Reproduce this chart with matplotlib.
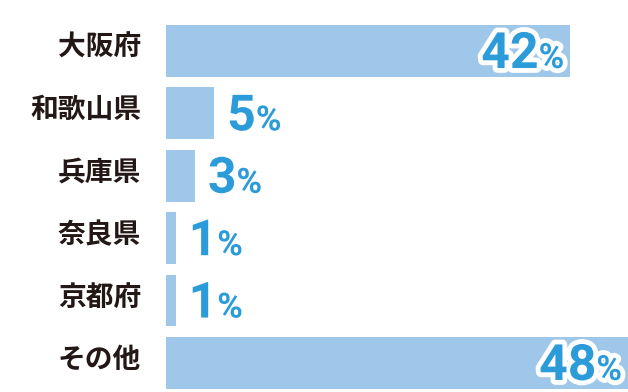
import matplotlib
matplotlib.use("Agg")
import matplotlib.pyplot as plt
import matplotlib.patheffects as pe

prefs = ["大阪府", "和歌山県", "兵庫県", "奈良県", "京都府", "その他"]
shares = [42, 5, 3, 1, 1, 48]

bar_color = "#9fc7ea"
num_color = "#2c9bd9"
label_color = "#231815"

plt.rcParams['font.family'] = ['Noto Sans CJK JP', 'DejaVu Sans']
num_font = ['Liberation Sans Narrow', 'Roboto', 'DejaVu Sans']

fig = plt.figure(figsize=(6.28, 3.92), dpi=100)
ax = fig.add_axes([166 / 628, 0, 1 - 166 / 628, 1])
rows = list(range(len(prefs)))
ax.barh(rows, shares, height=0.83, color=bar_color)
ax.set_xlim(0, 48)
ax.set_ylim(5.465, -0.817)
ax.axis('off')

for i, name in zip(rows, prefs):
    ax.annotate(name, xy=(0, i), xytext=(-25, 3), textcoords='offset pixels',
                ha='right', va='center', fontsize=20, fontweight='bold',
                color=label_color, annotation_clip=False)

outline = [pe.Stroke(linewidth=7, foreground='white'), pe.Normal()]
num_kw = dict(textcoords='offset pixels', va='baseline', color=num_color,
              fontweight='bold', family=num_font, path_effects=outline,
              annotation_clip=False)
big, small = 36, 25
base_dy = -17

fig.canvas.draw()
renderer = fig.canvas.get_renderer()

for i, v in zip(rows, shares):
    inside = v > 20
    if inside:
        pct = ax.annotate('%', xy=(v, i), xytext=(-6, base_dy), ha='right',
                          fontsize=small, **num_kw)
        w = pct.get_window_extent(renderer).width
        ax.annotate(str(v), xy=(v, i), xytext=(-6 - w, base_dy), ha='right',
                    fontsize=big, **num_kw)
    else:
        dig = ax.annotate(str(v), xy=(v, i), xytext=(13, base_dy), ha='left',
                          fontsize=big, **num_kw)
        w = dig.get_window_extent(renderer).width
        ax.annotate('%', xy=(v, i), xytext=(13 + w, base_dy), ha='left',
                    fontsize=small, **num_kw)

fig.savefig("out.png", dpi=100)
